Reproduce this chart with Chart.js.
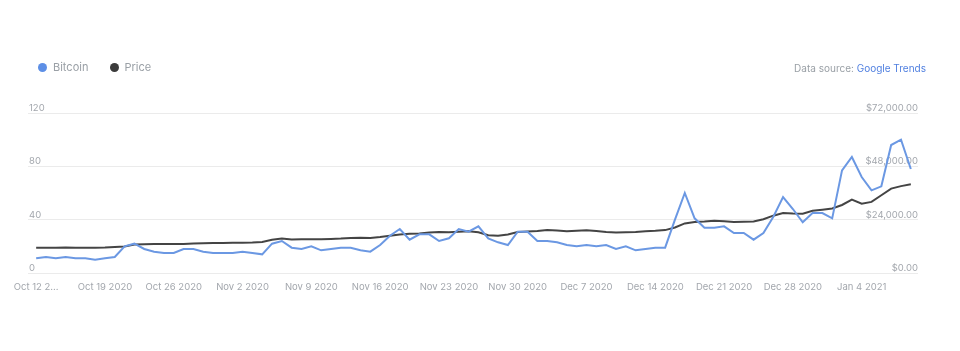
<!DOCTYPE html>
<html>
<head>
<meta charset="utf-8">
<script src="https://cdn.jsdelivr.net/npm/chart.js@4/dist/chart.umd.min.js"></script>
<style>
body{margin:0;background:#fff;font-family:Inter,"Noto Sans",sans-serif}
#wrap{position:relative;width:960px;height:351px}
#legend{position:absolute;left:38px;top:59px;font-size:11px;color:#9aa0a6;line-height:16px}
#legend span.item{display:inline-block;margin-right:18px}
#legend i{display:inline-block;width:9px;height:9px;border-radius:50%;margin-right:6px;vertical-align:-1px}
#source{position:absolute;right:34px;top:60px;font-size:10px;color:#9aa0a6;line-height:16px}
#source a{color:#4f7fe0;text-decoration:none}
</style>
</head>
<body>
<div id="wrap">
  <canvas id="trendChart" width="960" height="351"></canvas>
  <div id="legend">
    <span class="item"><i style="background:#5d8fe6"></i>Bitcoin</span>
    <span class="item"><i style="background:#3b3b3b"></i>Price</span>
  </div>
  <div id="source">Data source: <a>Google Trends</a></div>
</div>
<script>
// one point per day, Oct 12 2020 .. Jan 9 2021
var tickLabels = ['Oct 12 2...', 'Oct 19 2020', 'Oct 26 2020', 'Nov 2 2020', 'Nov 9 2020', 'Nov 16 2020',
    'Nov 23 2020', 'Nov 30 2020', 'Dec 7 2020', 'Dec 14 2020', 'Dec 21 2020', 'Dec 28 2020', 'Jan 4 2021']
var tickDays = [0, 7, 14, 21, 28, 35, 42, 49, 56, 63, 70, 77, 84]

var bitcoin = [11,12,11,12,11,11,10,11,12,20, 22,18,16,15,15,18,18,16,15,15,
    15,16,15,14,22,24,19,18,20,17, 18,19,19,17,16,21,28,33,25,29,
    29,24,26,33,31,35,26,23,21,31, 31,24,24,23,21,20,21,20,21,18,
    20,17,18,19,19,40,60,41,34,34, 35,30,30,25,30,42,57,48,38,45,
    45,41,77,87,72,62,65,96,100,78]

var price = [11400,11400,11400,11450,11350,11350,11400,11500,11700,11900,
    12800,12900,13000,13050,13050,13100,13300,13400,13500,13500,
    13600,13600,13700,14000,15000,15500,15100,15150,15200,15150,
    15300,15500,15800,15900,15800,16200,16800,17300,17700,17800,
    18200,18400,18300,18600,18800,18300,17000,16800,17300,18400,
    18700,18900,19300,19100,18800,19000,19200,18900,18400,18200,
    18300,18400,18800,19000,19300,20500,22300,23000,23200,23500,
    23300,23000,23100,23200,24200,25800,27000,26800,26700,28000,
    28500,29000,30600,33000,31200,32000,35000,38000,39100,39900]

var leftTicks = [0, 40, 80, 120]
var rightTicks = [0, 24000, 48000, 72000]

function toPoints(arr) {
    return arr.map(function (v, i) { return {x: i, y: v} })
}

var tickColor = '#a3a7ad'
var tickFont = {family: 'Inter', size: 9.5}

var ctx = document.getElementById('trendChart')
var myChart = new Chart(ctx, {
    type: 'line',
    data: {
        datasets: [{
            label: 'Bitcoin',
            data: toPoints(bitcoin),
            borderColor: '#6b98e3',
            borderWidth: 2,
            pointRadius: 0,
            yAxisID: 'y',
        }, {
            label: 'Price',
            data: toPoints(price),
            borderColor: '#444444',
            borderWidth: 2,
            pointRadius: 0,
            yAxisID: 'y2',
        }]
    },
    options: {
        responsive: false,
        animation: false,
        layout: {padding: {left: 28, right: 42, top: 113, bottom: 54}},
        plugins: {legend: {display: false}, tooltip: {enabled: false}},
        scales: {
            x: {
                type: 'linear',
                min: -0.83,
                max: 89.73,
                grid: {display: false},
                border: {display: false},
                afterBuildTicks: function (s) {
                    s.ticks = tickDays.map(function (d) { return {value: d} })
                },
                afterFit: function (s) { s.height = 24 },
                ticks: {
                    color: tickColor,
                    font: tickFont,
                    padding: 0,
                    maxRotation: 0,
                    autoSkip: false,
                    callback: function (v) { return tickLabels[tickDays.indexOf(v)] }
                }
            },
            y: {
                position: 'left',
                min: 0,
                max: 120,
                grid: {color: '#ebebeb', drawTicks: false},
                border: {display: false},
                afterBuildTicks: function (s) {
                    s.ticks = leftTicks.map(function (v) { return {value: v} })
                },
                afterFit: function (s) { s.width = 0 },
                ticks: {mirror: true, padding: 1, labelOffset: -5, color: tickColor, font: tickFont}
            },
            y2: {
                position: 'right',
                min: 0,
                max: 72000,
                grid: {display: false},
                border: {display: false},
                afterBuildTicks: function (s) {
                    s.ticks = rightTicks.map(function (v) { return {value: v} })
                },
                afterFit: function (s) { s.width = 0 },
                ticks: {
                    mirror: true, padding: 0, labelOffset: -5, color: tickColor, font: tickFont,
                    callback: function (v) {
                        return '$' + v.toLocaleString('en-US', {minimumFractionDigits: 2, maximumFractionDigits: 2})
                    }
                }
            }
        }
    }
})
</script>
</body>
</html>
